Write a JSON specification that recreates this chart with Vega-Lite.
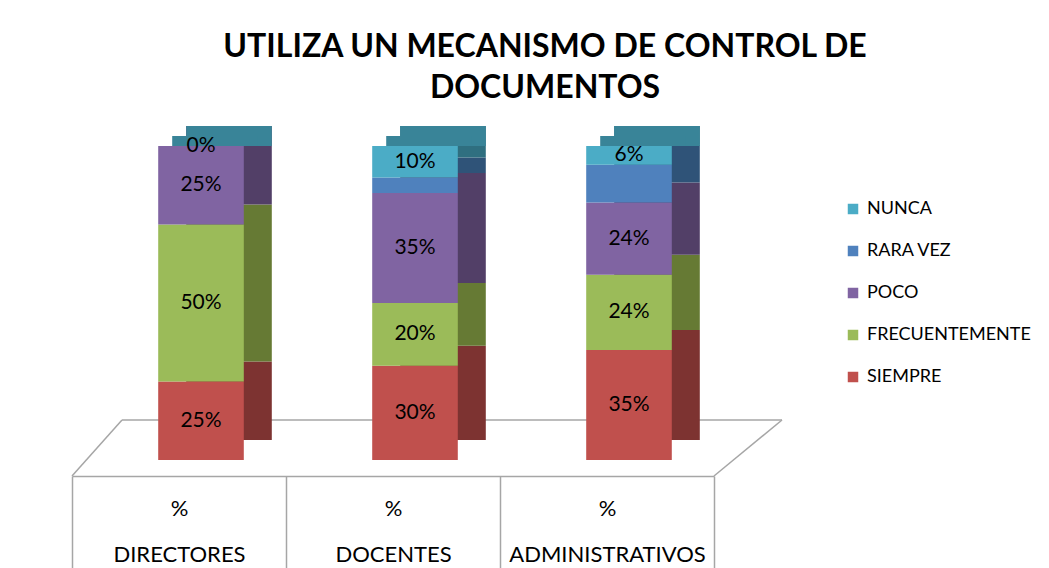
{
  "$schema": "https://vega.github.io/schema/vega-lite/v6.json",
  "width": 642,
  "height": 314,
  "autosize": {"type": "none"},
  "padding": {"left": 72, "top": 146, "right": 335, "bottom": 108},
  "background": "white",
  "title": {
    "text": ["UTILIZA UN MECANISMO DE CONTROL DE", "DOCUMENTOS"],
    "font": "Lato",
    "fontSize": 32,
    "fontWeight": "bold",
    "color": "#000000",
    "lineHeight": 41,
    "anchor": "middle",
    "dx": 152,
    "offset": 21
  },
  "config": {
    "view": {"stroke": null},
    "font": "Lato"
  },
  "data": {
    "values": [
      {"grupo": "% DIRECTORES", "serie": "SIEMPRE", "k": 1, "v": 25, "lbl": "25%"},
      {"grupo": "% DIRECTORES", "serie": "FRECUENTEMENTE", "k": 2, "v": 50, "lbl": "50%"},
      {"grupo": "% DIRECTORES", "serie": "POCO", "k": 3, "v": 25, "lbl": "25%"},
      {"grupo": "% DIRECTORES", "serie": "RARA VEZ", "k": 4, "v": 0, "lbl": ""},
      {"grupo": "% DIRECTORES", "serie": "NUNCA", "k": 5, "v": 0, "lbl": "0%"},
      {"grupo": "% DOCENTES", "serie": "SIEMPRE", "k": 1, "v": 30, "lbl": "30%"},
      {"grupo": "% DOCENTES", "serie": "FRECUENTEMENTE", "k": 2, "v": 20, "lbl": "20%"},
      {"grupo": "% DOCENTES", "serie": "POCO", "k": 3, "v": 35, "lbl": "35%"},
      {"grupo": "% DOCENTES", "serie": "RARA VEZ", "k": 4, "v": 5, "lbl": ""},
      {"grupo": "% DOCENTES", "serie": "NUNCA", "k": 5, "v": 10, "lbl": "10%"},
      {"grupo": "% ADMINISTRATIVOS", "serie": "SIEMPRE", "k": 1, "v": 35, "lbl": "35%"},
      {"grupo": "% ADMINISTRATIVOS", "serie": "FRECUENTEMENTE", "k": 2, "v": 24, "lbl": "24%"},
      {"grupo": "% ADMINISTRATIVOS", "serie": "POCO", "k": 3, "v": 23, "lbl": "24%"},
      {"grupo": "% ADMINISTRATIVOS", "serie": "RARA VEZ", "k": 4, "v": 12, "lbl": ""},
      {"grupo": "% ADMINISTRATIVOS", "serie": "NUNCA", "k": 5, "v": 6, "lbl": "6%"}
    ]
  },
  "encoding": {
    "x": {
      "field": "grupo",
      "type": "nominal",
      "sort": null,
      "scale": {"domain": ["% DIRECTORES", "% DOCENTES", "% ADMINISTRATIVOS"], "paddingInner": 0, "paddingOuter": 0},
      "axis": {
        "title": null,
        "orient": "bottom",
        "offset": 16,
        "domainColor": "#A6A6A6",
        "domainWidth": 1.5,
        "tickColor": "#A6A6A6",
        "tickWidth": 1.5,
        "tickBand": "extent",
        "tickSize": 100,
        "labelAngle": 0,
        "labelPadding": -78,
        "labelBaseline": "top",
        "labelFontSize": 22,
        "labelColor": "#000000",
        "labelLineHeight": 46,
        "labelLimit": 400,
        "labelExpr": "split(datum.label, ' ')"
      }
    },
    "y": {
      "field": "v",
      "type": "quantitative",
      "stack": "zero",
      "scale": {"domain": [0, 100], "nice": false},
      "axis": null
    },
    "order": {"field": "k", "type": "quantitative"}
  },
  "resolve": {"scale": {"color": "independent"}, "legend": {"color": "independent"}},
  "layer": [
    {
      "transform": [{"filter": "datum.k === 1 && datum.grupo === '% DIRECTORES'"}],
      "mark": {"type": "rule", "color": "#A6A6A6", "strokeWidth": 1.5, "xOffset": -57, "x2Offset": 175, "yOffset": -40, "y2Offset": -40},
      "encoding": {
        "x": {"datum": "% DIRECTORES"},
        "x2": {"datum": "% ADMINISTRATIVOS"},
        "y": {"datum": 0, "type": "quantitative"},
        "y2": {"datum": 0}
      }
    },
    {
      "transform": [{"filter": "datum.k === 1 && datum.grupo === '% DIRECTORES'"}],
      "mark": {"type": "rule", "color": "#A6A6A6", "strokeWidth": 1.5, "xOffset": -107, "x2Offset": -57, "yOffset": 16, "y2Offset": -40},
      "encoding": {
        "x": {"datum": "% DIRECTORES"},
        "x2": {"datum": "% DIRECTORES"},
        "y": {"datum": 0, "type": "quantitative"},
        "y2": {"datum": 0}
      }
    },
    {
      "transform": [{"filter": "datum.k === 1 && datum.grupo === '% DIRECTORES'"}],
      "mark": {"type": "rule", "color": "#A6A6A6", "strokeWidth": 1.5, "xOffset": 107, "x2Offset": 175, "yOffset": 16, "y2Offset": -40},
      "encoding": {
        "x": {"datum": "% ADMINISTRATIVOS"},
        "x2": {"datum": "% ADMINISTRATIVOS"},
        "y": {"datum": 0, "type": "quantitative"},
        "y2": {"datum": 0}
      }
    },
    {
      "mark": {"type": "bar", "width": {"band": 0.4}, "xOffset": 50, "yOffset": -20},
      "encoding": {
        "color": {
          "field": "serie",
          "type": "nominal",
          "legend": null,
          "scale": {
            "domain": ["NUNCA", "RARA VEZ", "POCO", "FRECUENTEMENTE", "SIEMPRE"],
            "range": ["#2F6F80", "#2F5378", "#523F67", "#667A34", "#7D3331"]
          }
        }
      }
    },
    {
      "transform": [{"filter": "datum.serie === 'NUNCA'"}],
      "mark": {"type": "bar", "width": {"band": 0.4}, "xOffset": 50, "yOffset": -20, "y2Offset": 0},
      "encoding": {
        "y": {"datum": 100, "type": "quantitative"},
        "y2": {"datum": 100},
        "color": {"value": "#398498"}
      }
    },
    {
      "transform": [{"filter": "datum.serie === 'NUNCA'"}],
      "mark": {"type": "bar", "width": {"band": 0.4}, "xOffset": 36, "yOffset": -10, "y2Offset": 0},
      "encoding": {
        "y": {"datum": 100, "type": "quantitative"},
        "y2": {"datum": 100},
        "color": {"value": "#398498"}
      }
    },
    {
      "mark": {"type": "bar", "width": {"band": 0.4}, "xOffset": 22},
      "encoding": {
        "color": {
          "field": "serie",
          "type": "nominal",
          "scale": {
            "domain": ["NUNCA", "RARA VEZ", "POCO", "FRECUENTEMENTE", "SIEMPRE"],
            "range": ["#4BACC6", "#4F81BD", "#8064A2", "#9BBB59", "#C0504D"]
          },
          "legend": {
            "title": null,
            "orient": "none",
            "legendX": 772,
            "legendY": 54,
            "symbolType": "square",
            "symbolSize": 110,
            "symbolStrokeWidth": 0,
            "labelFontSize": 18,
            "labelColor": "#000000",
            "labelOffset": 5,
            "rowPadding": 24,
            "labelLimit": 300
          }
        }
      }
    },
    {
      "mark": {"type": "text", "fontSize": 21, "color": "#000000", "xOffset": 22},
      "encoding": {
        "y": {"field": "v", "type": "quantitative", "stack": "zero", "bandPosition": 0.5},
        "text": {"field": "lbl"}
      }
    }
  ]
}
